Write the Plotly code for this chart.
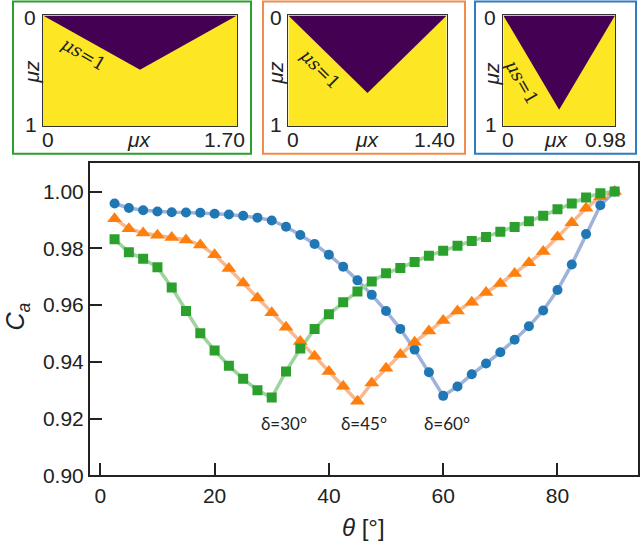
import plotly.graph_objects as go

# ---------------- data ----------------
theta = [2.5, 5, 7.5, 10, 12.5, 15, 17.5, 20, 22.5, 25, 27.5, 30, 32.5, 35, 37.5, 40,
         42.5, 45, 47.5, 50, 52.5, 55, 57.5, 60, 62.5, 65, 67.5, 70, 72.5, 75, 77.5,
         80, 82.5, 85, 87.5, 90]

ca_delta60 = [0.9958, 0.9942, 0.9934, 0.9930, 0.9927, 0.9926, 0.9925, 0.9922, 0.9919,
              0.9915, 0.9908, 0.9898, 0.9876, 0.9847, 0.9815, 0.9777, 0.9735, 0.9687,
              0.9636, 0.9579, 0.9516, 0.9443, 0.9363, 0.9280, 0.9313, 0.9356, 0.9394,
              0.9434, 0.9478, 0.9525, 0.9581, 0.9653, 0.9743, 0.9850, 0.9952, 1.0000]

ca_delta45 = [0.9904, 0.9869, 0.9854, 0.9846, 0.9838, 0.9829, 0.9812, 0.9777, 0.9729,
              0.9678, 0.9625, 0.9573, 0.9522, 0.9472, 0.9420, 0.9366, 0.9314, 0.9261,
              0.9325, 0.9377, 0.9426, 0.9469, 0.9509, 0.9546, 0.9579, 0.9610, 0.9644,
              0.9676, 0.9711, 0.9749, 0.9789, 0.9840, 0.9890, 0.9941, 0.9982, 1.0000]

ca_delta30 = [0.9832, 0.9786, 0.9763, 0.9733, 0.9662, 0.9579, 0.9501, 0.9440, 0.9386,
              0.9340, 0.9300, 0.9274, 0.9366, 0.9447, 0.9516, 0.9568, 0.9610, 0.9648,
              0.9683, 0.9712, 0.9731, 0.9752, 0.9774, 0.9791, 0.9809, 0.9826, 0.9840,
              0.9858, 0.9875, 0.9895, 0.9915, 0.9938, 0.9958, 0.9979, 0.9994, 1.0000]

delta_labels = ["δ=30°", "δ=45°", "δ=60°"]
delta_label_x = [32.1, 46.1, 60.7]
delta_label_y = 0.9183

x_ticks = [0, 20, 40, 60, 80]
y_ticks = [0.90, 0.92, 0.94, 0.96, 0.98, 1.00]

# insets (green: 30°, orange: 45°, blue: 60°)
inset_L = [1.70, 1.40, 0.98]
inset_L_text = ["1.70", "1.40", "0.98"]
inset_depth = [0.49, 0.70, 0.85]

# ---------------- style ----------------
BLUE = "#1f77b4"
ORANGE = "#ff7f0e"
GREEN = "#2ca02c"
PURPLE = "#440154"
YELLOW = "#fde725"
INK = "#222222"
SANS = "Liberation Sans, Arial, sans-serif"

fig = go.Figure()

# main lines (under markers)
series = [
    (ca_delta60, BLUE, "#9fb2d9", "circle", 10),
    (ca_delta45, ORANGE, "#f7b98f", "triangle-up", 13),
    (ca_delta30, GREEN, "#9fd49f", "square", 10),
]
for ys, mc, lc, sym, sz in series:
    fig.add_trace(go.Scatter(x=theta, y=ys, mode="lines",
                             line=dict(color=lc, width=3.5),
                             xaxis="x", yaxis="y", showlegend=False, hoverinfo="skip"))
for ys, mc, lc, sym, sz in series:
    fig.add_trace(go.Scatter(x=theta, y=ys, mode="markers",
                             marker=dict(color=mc, symbol=sym, size=sz, line=dict(width=0)),
                             xaxis="x", yaxis="y", showlegend=False))

# insets
inset_x_dom = [[43 / 640, 237 / 640], [288.3 / 640, 446.7 / 640], [503.3 / 640, 615 / 640]]
inset_y_dom = [1 - 129 / 551, 1 - 15.7 / 551]
for i, (L, d) in enumerate(zip(inset_L, inset_depth)):
    ax = str(i + 2)
    fig.add_trace(go.Scatter(x=[0, L, L, 0, 0], y=[0, 0, 1, 1, 0], mode="lines",
                             fill="toself", fillcolor=YELLOW, line=dict(width=0, color=YELLOW),
                             xaxis="x" + ax, yaxis="y" + ax, showlegend=False, hoverinfo="skip"))
    fig.add_trace(go.Scatter(x=[0, L / 2, L, 0], y=[0, d, 0, 0], mode="lines",
                             fill="toself", fillcolor=PURPLE, line=dict(width=0, color=PURPLE),
                             xaxis="x" + ax, yaxis="y" + ax, showlegend=False, hoverinfo="skip"))

layout = dict(
    width=640, height=551,
    margin=dict(l=0, r=0, t=0, b=0),
    paper_bgcolor="white", plot_bgcolor="white",
    font=dict(family=SANS, color=INK),
    xaxis=dict(domain=[90 / 640, 637.5 / 640], range=[-1.8, 94],
               tickvals=x_ticks, ticks="inside", ticklen=12, tickwidth=2, tickcolor=INK,
               showline=True, linewidth=2, linecolor=INK, mirror=True,
               showgrid=False, zeroline=False, tickfont=dict(size=21, family=SANS, color=INK)),
    yaxis=dict(domain=[1 - 485 / 551, 1 - 166.5 / 551], range=[0.90, 1.01],
               tickvals=y_ticks, tickformat=".2f", ticks="inside", ticklen=12, tickwidth=2,
               tickcolor=INK, showline=True, linewidth=2, linecolor=INK, mirror=True,
               showgrid=False, zeroline=False, tickfont=dict(size=21, family=SANS, color=INK)),
)
for i, L in enumerate(inset_L):
    ax = str(i + 2)
    layout["xaxis" + ax] = dict(domain=inset_x_dom[i], range=[0, L], anchor="y" + ax,
                                showline=True, linewidth=1, linecolor="#333333", mirror=True,
                                showticklabels=False, ticks="", showgrid=False, zeroline=False)
    layout["yaxis" + ax] = dict(domain=inset_y_dom, range=[1, 0], anchor="x" + ax,
                                showline=True, linewidth=1, linecolor="#333333", mirror=True,
                                showticklabels=False, ticks="", showgrid=False, zeroline=False)
fig.update_layout(**layout)

# colored boxes round the insets
boxes = [((13, 251), GREEN), ((263, 465), "#f08c4c"), ((475, 636), "#2e7dbf")]
for (x0, x1), col in boxes:
    fig.add_shape(type="rect", xref="paper", yref="paper",
                  x0=x0 / 640, x1=x1 / 640, y0=1 - 157 / 551, y1=1 - 1.5 / 551,
                  line=dict(color=col, width=2), fillcolor="rgba(0,0,0,0)")

def px(xp, yp):
    return xp / 640, 1 - yp / 551

annots = []
def add_text(text, xp, yp, size=20, angle=0, family=SANS, xanchor="center"):
    x, y = px(xp, yp)
    annots.append(dict(text=text, x=x, y=y, xref="paper", yref="paper", showarrow=False,
                       xanchor=xanchor, yanchor="middle", textangle=angle,
                       font=dict(size=size, family=family, color=INK)))

# inset labels
inset_label_pos = [
    # y0, y1, muz, x0, mux, xL (right edge)
    dict(y0=(30, 18), y1=(31, 127), muz=(32, 73), x0=(47.5, 142), mux=(139, 142), xL=(247, 142)),
    dict(y0=(276, 18), y1=(276, 127), muz=(276, 74), x0=(292.5, 142), mux=(367.5, 142), xL=(457, 142)),
    dict(y0=(490, 18), y1=(491, 127), muz=(492, 75), x0=(508, 142), mux=(556, 142), xL=(628, 142)),
]
for i, p in enumerate(inset_label_pos):
    add_text("0", *p["y0"], size=21)
    add_text("1", *p["y1"], size=21)
    add_text("<i>μz</i>", *p["muz"], size=21, angle=-90)
    add_text("0", *p["x0"], size=21)
    add_text("<i>μx</i>", *p["mux"], size=21)
    add_text(inset_L_text[i], *p["xL"], size=21, xanchor="right")

# mu s = 1 labels (along the dividing line)
mus_pos = [(83, 55, 30), (320, 70, 45), (522, 83, 60)]
for xp, yp, ang in mus_pos:
    add_text("<i>μs</i>=1", xp, yp, size=18, angle=ang, family="DejaVu Serif, serif")

# axis titles
add_text("<i>C</i><sub><i>a</i></sub>", 17, 323, size=25, angle=-90)
add_text("<i>θ</i> [°]", 363, 538, size=24)

# delta labels in data coords
for t, xv in zip(delta_labels, delta_label_x):
    annots.append(dict(text=t, x=xv, y=delta_label_y, xref="x", yref="y", showarrow=False,
                       xanchor="center", yanchor="middle",
                       font=dict(size=17, family="Lato, sans-serif", color=INK)))

fig.update_layout(annotations=annots)
fig.write_html("out.html", config={"displayModeBar": False},
               post_script="document.body.style.margin='0';document.body.style.padding='0';")
